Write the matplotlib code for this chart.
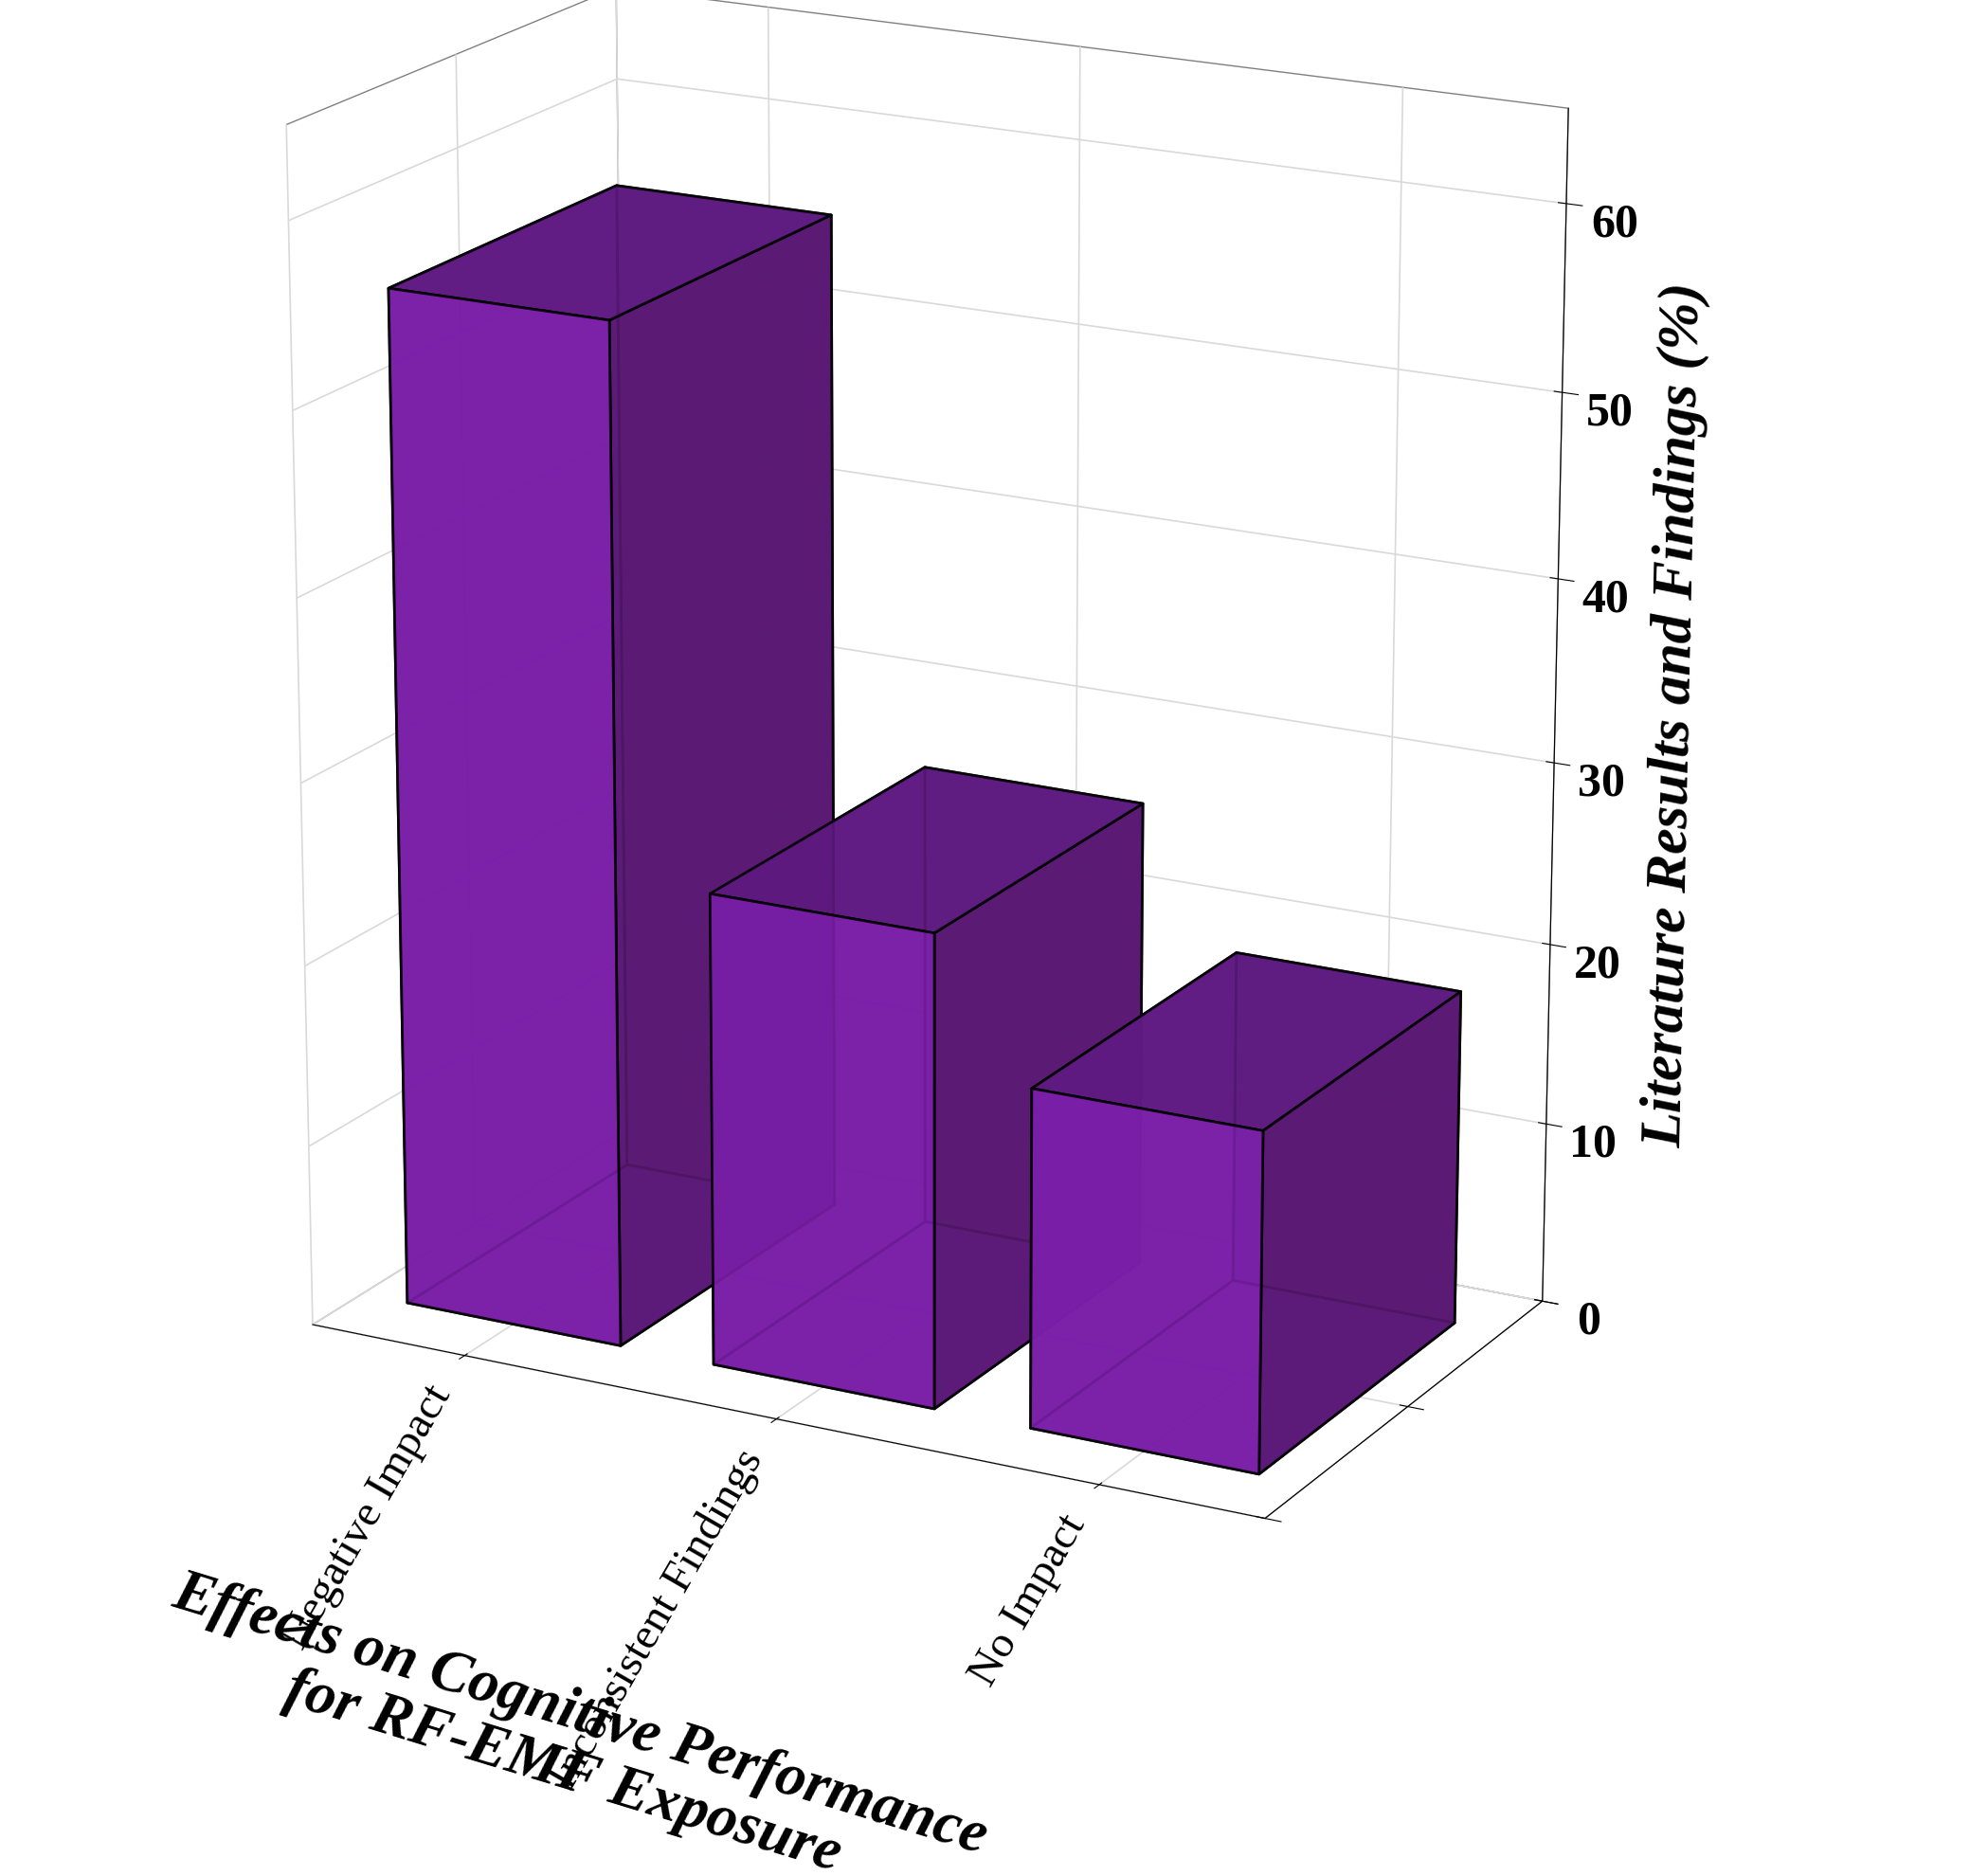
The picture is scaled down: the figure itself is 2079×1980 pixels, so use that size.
import matplotlib
matplotlib.use("Agg")
import matplotlib.pyplot as plt
import numpy as np

categories = ["Negative Impact", "Inconsistent Findings", "No Impact"]
values = [55.6, 25.9, 18.5]
zticks = [0, 10, 20, 30, 40, 50, 60]

plt.rcParams['font.family'] = ['Liberation Serif']
plt.rcParams['font.weight'] = 'bold'

fig = plt.figure(figsize=(20.79, 19.80), dpi=100)
ax = fig.add_axes([-0.02, 0.14, 0.96, 0.92], projection='3d')
ax.view_init(elev=18, azim=-62)

x = np.arange(len(categories))
# face order: bottom, top, front(-y), back(+y), left(-x), right(+x)
face_cols = ['#6E1C9A', '#5E1A80', '#7B1FAA', '#5E1A80', '#6E1C9A', '#581872']
cols = face_cols * len(categories)
ax.bar3d(x - 0.35, np.zeros(3) - 0.35, np.zeros(3), 0.7, 0.7, values,
         color=cols, alpha=0.88, edgecolor='black', linewidth=2, shade=False)

ax.set_xlim(-0.5, 2.5)
ax.set_ylim(-0.5, 0.5)
ax.set_zlim(0, 65)
ax.set_box_aspect((1.5, 0.9, 1.75))
ax.set_xticks(x)
ax.set_xticklabels(categories, rotation=60, ha='right', va='top', fontsize=34, fontweight='normal')
ax.set_yticks([-0.5, 0, 0.5])
ax.set_yticklabels([])
ax.set_zticks(zticks)
ax.set_zticklabels([str(t) for t in zticks], fontsize=36)
for a in (ax.xaxis, ax.yaxis, ax.zaxis):
    a.pane.fill = False
    a.pane.set_edgecolor('black')
    a._axinfo['grid']['color'] = (0.85, 0.85, 0.85, 1)
    a._axinfo['grid']['linewidth'] = 1.2
ax.zaxis.set_ticks_position('upper')
ax.zaxis.set_label_position('upper')
ax.set_zlabel("Literature Results and Findings (%)", fontsize=44,
              fontweight='bold', fontstyle='italic', labelpad=45)
ax.tick_params(axis='z', pad=18)
fig.text(0.29, 0.07, "Effects on Cognitive Performance\nfor RF-EMF Exposure", fontsize=46,
         fontweight='bold', fontstyle='italic', rotation=-17, ha='center', va='center',
         linespacing=1.1)
fig.savefig("out.png", dpi=100)
